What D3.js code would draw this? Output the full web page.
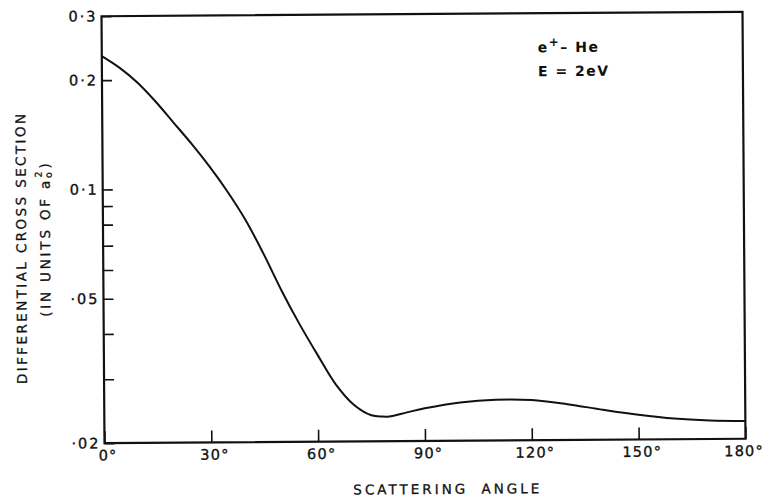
<!DOCTYPE html>
<html>
<head>
<meta charset="utf-8">
<script src="https://cdn.jsdelivr.net/npm/d3@7"></script>
<style>
  html, body { margin: 0; padding: 0; background: #fff; }
  svg { display: block; }
  text { font-family: "DejaVu Sans", "Liberation Sans", sans-serif; fill: #111; }
</style>
</head>
<body>
<svg id="chart" width="764" height="498"></svg>
<script>
// Differential cross section for e+ - He scattering at E = 2 eV
const angles = [0, 5, 10, 15, 20, 25, 30, 35, 40, 45, 50, 55, 60, 65, 70, 75, 78, 80, 85, 90, 100, 110, 120, 130, 140, 150, 160, 170, 180];
const crossSection = [0.233, 0.2161, 0.1965, 0.1743, 0.1524, 0.1332, 0.1152, 0.0982, 0.082, 0.0661, 0.0523, 0.0422, 0.0347, 0.0288, 0.0253, 0.0236, 0.0234, 0.0234, 0.024, 0.0246, 0.0255, 0.0259, 0.0258, 0.0251, 0.0242, 0.0234, 0.0228, 0.0225, 0.0224];

const xTickValues = [0, 30, 60, 90, 120, 150, 180];
const xTickLabels = ["0°", "30°", "60°", "90°", "120°", "150°", "180°"];
const yTickValues = [0.02, 0.05, 0.1, 0.2, 0.3];
const yTickLabels = ["·02", "·05", "0·1", "0·2", "0·3"];
const yMinorTicks = [0.03, 0.04, 0.06, 0.07, 0.08, 0.09];

const margin = { left: 103, top: 14 };
const width = 641, height = 427;

const svg = d3.select("#chart");
const root = svg.append("g")
  .attr("transform", `rotate(-0.4, ${margin.left + width / 2}, ${margin.top + height / 2})`);
const g = root.append("g").attr("transform", `translate(${margin.left},${margin.top})`);

const x = d3.scaleLinear().domain([0, 180]).range([0, width]);
const y = d3.scaleLog().domain([0.02, 0.3]).range([height, 0]);

// bottom axis: inward ticks
const xAxis = d3.axisBottom(x)
  .tickValues(xTickValues)
  .tickSize(-12)
  .tickPadding(7)
  .tickFormat((d, i) => xTickLabels[i]);
const gx = g.append("g").attr("transform", `translate(0,${height})`).call(xAxis);
gx.select(".domain").remove();
gx.selectAll(".tick line").attr("stroke", "#111").attr("stroke-width", 1.6);
gx.selectAll(".tick text")
  .attr("font-size", 14.5)
  .attr("letter-spacing", 1.2)
  .attr("dx", (d, i) => i === xTickValues.length - 1 ? -2 : 3)
  .attr("fill", "#111")
  .attr("stroke", "#111")
  .attr("stroke-width", 0.35)
  .attr("font-family", "DejaVu Sans, sans-serif");

// left axis: inward ticks
const yAxis = d3.axisLeft(y)
  .tickValues(yTickValues)
  .tickSize(-10)
  .tickPadding(4)
  .tickFormat((d, i) => yTickLabels[i]);
const gy = g.append("g").call(yAxis);
gy.select(".domain").remove();
gy.selectAll(".tick line").attr("stroke", "#111").attr("stroke-width", 1.6);
gy.selectAll(".tick text")
  .attr("font-size", 14.5)
  .attr("letter-spacing", 2)
  .attr("fill", "#111")
  .attr("stroke", "#111")
  .attr("stroke-width", 0.35)
  .attr("font-family", "DejaVu Sans, sans-serif");

const yMinor = d3.axisLeft(y).tickValues(yMinorTicks).tickSize(-10).tickFormat("");
const gym = g.append("g").call(yMinor);
gym.select(".domain").remove();
gym.selectAll(".tick line").attr("stroke", "#111").attr("stroke-width", 1.6);

// frame
g.append("rect")
  .attr("x", 0).attr("y", 0).attr("width", width).attr("height", height)
  .attr("fill", "none").attr("stroke", "#111").attr("stroke-width", 2.2);

// curve
const line = d3.line()
  .x((d, i) => x(angles[i]))
  .y(d => y(d))
  .curve(d3.curveCatmullRom.alpha(0.5));
g.append("path")
  .datum(crossSection)
  .attr("d", line)
  .attr("fill", "none")
  .attr("stroke", "#111")
  .attr("stroke-width", 2);

// annotation
const ann = g.append("g").attr("font-size", 14).attr("font-weight", "bold").attr("letter-spacing", 1.5);
const t1 = ann.append("text").attr("x", 436).attr("y", 39);
t1.append("tspan").text("e");
t1.append("tspan").attr("dy", -6).attr("font-size", 12).text("+");
t1.append("tspan").attr("dy", 6).text("– He");
ann.append("text").attr("x", 436).attr("y", 63).text("E = 2eV");

// axis titles
const titleStyle = sel => sel
  .attr("text-anchor", "middle")
  .attr("font-size", 13.5)
  .attr("stroke", "#111")
  .attr("stroke-width", 0.3);

root.append("text")
  .call(titleStyle)
  .attr("x", 446)
  .attr("y", 494)
  .attr("letter-spacing", 3)
  .attr("word-spacing", 6)
  .text("SCATTERING ANGLE");

root.append("text")
  .call(titleStyle)
  .attr("transform", "translate(26,245) rotate(-90)")
  .attr("letter-spacing", 2.4)
  .text("DIFFERENTIAL CROSS SECTION");

const yt2 = root.append("text")
  .call(titleStyle)
  .attr("transform", "translate(50,236) rotate(-90)")
  .attr("letter-spacing", 2.8);
yt2.append("tspan").text("(IN UNITS OF a");
yt2.append("tspan").attr("font-size", 9.5).attr("dy", 2).text("o");
yt2.append("tspan").attr("font-size", 9.5).attr("dx", -8).attr("dy", -10).text("2");
yt2.append("tspan").attr("dy", 8).text(")");
</script>
</body>
</html>
